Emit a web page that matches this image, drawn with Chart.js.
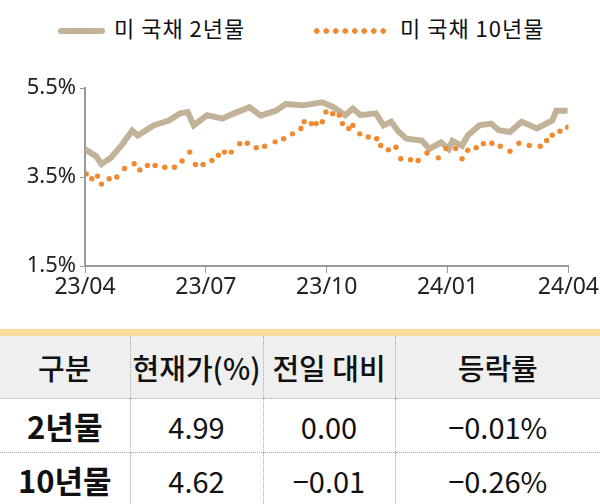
<!DOCTYPE html>
<html><head><meta charset="utf-8">
<script src="https://cdn.jsdelivr.net/npm/chart.js@4"></script>
<style>
body{margin:0;width:600px;height:504px;background:#fff;font-family:"Noto Sans CJK KR","Noto Sans",sans-serif;position:relative;overflow:hidden;color:#111}
#wrap{position:absolute;left:0;top:60px;width:600px;height:250px}
.leg{position:absolute;top:12px;font-size:22px;line-height:30px;letter-spacing:1px}
table{position:absolute;left:0;top:329px;width:600px;border-collapse:collapse;border-top:7px solid #f8dc9e;table-layout:fixed}
td,th{text-align:center;border-left:1px dotted #aaa;border-bottom:1px dotted #aaa;padding:0;white-space:nowrap}
td:first-child,th:first-child{border-left:none}
th{background:#efefef;height:62px;font-size:29px;font-weight:500}
td{height:53px;font-size:29px;font-weight:400}
td:first-child{font-weight:700;font-size:31px}
</style></head><body>
<div class="leg" style="left:58px"><span style="display:inline-block;width:47px;height:6px;background:#c2b298;vertical-align:middle;margin-right:9px;border-radius:3px"></span>미 국채 2년물</div>
<div class="leg" style="left:312px"><span style="display:inline-block;width:76px;height:6px;vertical-align:middle;margin-right:12px;background:radial-gradient(circle,#f08a30 2.6px,transparent 3px) 0 0/9.5px 6px repeat-x"></span>미 국채 10년물</div>
<div id="wrap"><canvas id="c"></canvas></div>
<table>
<colgroup><col style="width:130px"><col style="width:133px"><col style="width:132px"><col></colgroup>
<tr><th>구분</th><th>현재가(%)</th><th>전일 대비</th><th>등락률</th></tr>
<tr><td>2년물</td><td>4.99</td><td>0.00</td><td>−0.01%</td></tr>
<tr><td>10년물</td><td>4.62</td><td>−0.01</td><td>−0.26%</td></tr>
</table>
<script>
const tickLabels=["23/04","23/07","23/10","24/01","24/04"];
const y2Months=[0,0.27,0.41,0.65,0.93,1.17,1.31,1.70,2.08,2.36,2.55,2.70,3.03,3.41,3.70,4.08,4.36,4.74,4.98,5.41,5.89,6.17,6.46,6.65,6.84,7.22,7.41,7.60,7.79,7.98,8.36,8.55,8.84,9.03,9.12,9.36,9.50,9.79,10.08,10.27,10.55,10.84,11.22,11.60,11.70,11.98];
const y2Values=[4.12,3.97,3.79,3.94,4.24,4.54,4.43,4.66,4.77,4.93,4.96,4.66,4.89,4.81,4.93,5.07,4.88,4.99,5.14,5.11,5.18,5.07,4.89,5.04,4.89,4.93,4.66,4.74,4.51,4.36,4.32,4.13,4.28,4.13,4.31,4.20,4.43,4.66,4.70,4.55,4.51,4.74,4.59,4.77,4.99,4.99];
const y10Months=[0.03,0.17,0.31,0.41,0.60,0.79,0.98,1.22,1.36,1.55,1.74,1.98,2.22,2.41,2.60,2.74,2.93,3.15,3.31,3.46,3.63,3.84,4.03,4.25,4.46,4.72,4.93,5.15,5.36,5.44,5.62,5.74,5.89,5.98,6.15,6.31,6.39,6.55,6.65,6.82,7.03,7.24,7.34,7.53,7.72,7.84,8.08,8.27,8.49,8.77,8.96,9.20,9.36,9.50,9.71,9.89,10.10,10.31,10.55,10.77,11.03,11.30,11.46,11.60,11.79,11.98];
const y10Values=[3.57,3.46,3.52,3.34,3.46,3.50,3.69,3.80,3.66,3.76,3.76,3.72,3.72,3.86,4.06,3.78,3.78,3.87,3.99,4.06,4.06,4.25,4.26,4.16,4.19,4.29,4.36,4.47,4.59,4.74,4.70,4.70,4.74,4.96,4.92,4.89,4.70,4.59,4.66,4.47,4.40,4.36,4.21,4.11,4.17,3.91,3.89,3.87,4.04,3.93,4.14,4.14,3.91,4.10,4.16,4.25,4.26,4.19,4.08,4.26,4.21,4.19,4.32,4.44,4.53,4.62];
const pts=(xs,ys)=>xs.map((x,i)=>({x,y:ys[i]}));
new Chart(document.getElementById('c'),{
 type:'scatter',
 data:{datasets:[
  {data:pts(y10Months,y10Values),showLine:false,pointRadius:2.7,pointBackgroundColor:'#f08a30',pointBorderWidth:0},
  {data:pts(y2Months,y2Values),showLine:true,borderColor:'#c2b298',borderWidth:6,pointRadius:0,tension:0}
 ]},
 options:{responsive:true,maintainAspectRatio:false,animation:false,
  layout:{padding:{top:28,right:30,left:0,bottom:0}},
  plugins:{legend:{display:false},tooltip:{enabled:false}},
  scales:{
   x:{type:'linear',min:0,max:12,afterFit:s=>{s.height=44},
    ticks:{stepSize:3,callback:v=>tickLabels[v/3],color:'#222',font:{size:23,family:'Noto Sans'},padding:1,maxRotation:0},
    grid:{drawOnChartArea:false,tickLength:7,color:'#999'},border:{color:'#999',width:2}},
   y:{min:1.5,max:5.5,afterFit:s=>{s.width=85},
    ticks:{stepSize:2,callback:v=>v.toFixed(1)+'%',color:'#222',font:{size:22,family:'Noto Sans'},padding:4},
    grid:{drawOnChartArea:false,tickLength:5,color:'#999'},border:{color:'#999',width:2}}
  }}
});
</script></body></html>
